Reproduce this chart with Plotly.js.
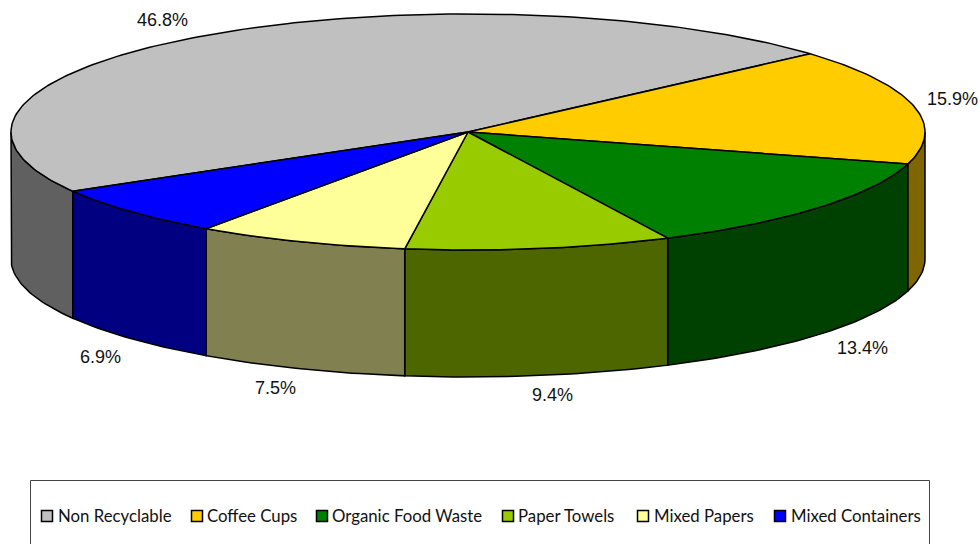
<!DOCTYPE html>
<html>
<head>
<meta charset="utf-8">
<script src="https://cdn.plot.ly/plotly-3.0.1.min.js"></script>
<style>html,body{margin:0;padding:0;background:#fff}#chart{width:980px;height:544px}</style>
</head>
<body>
<div id="chart"></div>
<script>
// Waste stream shares, in percent
const categories = ['Non Recyclable', 'Coffee Cups', 'Organic Food Waste', 'Paper Towels', 'Mixed Papers', 'Mixed Containers'];
const shares = [46.8, 15.9, 13.4, 9.4, 7.5, 6.9];
const topColors = ['#C0C0C0', '#FFCC00', '#008000', '#99CC00', '#FFFF99', '#0000FF'];
const wallColors = ['#606060', '#806600', '#004000', '#4D6600', '#808050', '#000080'];

// Where each percentage label and legend entry sits, in page pixels
const labelX = [162, 952.5, 862, 552, 275, 100];
const labelY = [20, 99, 348, 395, 388, 357];
const swatchX = [47, 197, 322, 508, 643, 780];
const legendTextX = [57.5, 207, 332, 518, 653.5, 790.5];
const legendY = 516;

// Disc projection: centre, radii and thickness of the tilted pie
const cx = 468, cy = 132, rx = 457, ry = 118, depth = 127;
const lastSliceEnd = 41.5;   // angle, in degrees, where the clockwise run of slices ends

const rad = d => d * Math.PI / 180;
const px = d => cx + rx * Math.cos(rad(d));
const py = (d, drop) => cy - ry * Math.sin(rad(d)) + drop;

function arc(from, to) {
  const n = Math.max(2, Math.ceil(Math.abs(from - to)));
  const out = [];
  for (let i = 0; i <= n; i++) out.push(from + (to - from) * i / n);
  return out;
}

const total = shares.reduce((a, b) => a + b, 0);
const spans = [];
let cursor = lastSliceEnd + 360 * shares[0] / total;
shares.forEach(v => {
  const next = cursor - 360 * v / total;
  spans.push([cursor, next]);
  cursor = next;
});

const traces = [];

// Front walls: only the part of each slice's rim facing the viewer
spans.forEach(([a0, a1], i) => {
  let from = null, to = null;
  if (a0 > -180 && a1 < 0) { from = Math.min(a0, 0); to = Math.max(a1, -180); }
  else if (a0 > 180 && a1 < 360) { from = Math.min(a0, 360); to = Math.max(a1, 180); }
  if (from === null) return;
  const angles = arc(from, to);
  const xs = angles.map(px).concat(angles.slice().reverse().map(px));
  const ys = angles.map(d => py(d, 0)).concat(angles.slice().reverse().map(d => py(d, depth)));
  xs.push(xs[0]); ys.push(ys[0]);
  traces.push({
    x: xs, y: ys, mode: 'lines', fill: 'toself', fillcolor: wallColors[i],
    line: {color: '#000', width: 1.5}, hoverinfo: 'skip', showlegend: false
  });
});

// Top face of each slice
spans.forEach(([a0, a1], i) => {
  const angles = arc(a0, a1);
  traces.push({
    x: [cx].concat(angles.map(px), [cx]),
    y: [cy].concat(angles.map(d => py(d, 0)), [cy]),
    mode: 'lines', fill: 'toself', fillcolor: topColors[i],
    line: {color: '#000', width: 1.5}, name: categories[i],
    text: shares[i].toFixed(1) + '%', hoverinfo: 'name+text', showlegend: false
  });
});

// Legend swatches
traces.push({
  x: swatchX, y: swatchX.map(() => legendY), mode: 'markers',
  marker: {symbol: 'square', size: 11, color: topColors, line: {color: '#000', width: 1.5}},
  hoverinfo: 'skip', showlegend: false
});

const annotations = [];
shares.forEach((v, i) => annotations.push({
  x: labelX[i], y: labelY[i], text: v.toFixed(1) + '%', showarrow: false,
  xanchor: 'center', yanchor: 'middle',
  font: {family: 'Liberation Sans, Arial, sans-serif', size: 18, color: '#111'}
}));
categories.forEach((c, i) => annotations.push({
  x: legendTextX[i], y: legendY - 0.5, text: c, showarrow: false,
  xanchor: 'left', yanchor: 'middle', borderpad: 0, borderwidth: 0,
  font: {family: 'Lato, sans-serif', size: 16.8, color: '#111'}
}));

const hiddenAxis = {visible: false, showgrid: false, zeroline: false, fixedrange: true};
const layout = {
  width: 980, height: 544,
  margin: {l: 0, r: 0, t: 0, b: 0, pad: 0},
  paper_bgcolor: '#fff', plot_bgcolor: '#fff',
  showlegend: false,
  xaxis: Object.assign({range: [0, 980]}, hiddenAxis),
  yaxis: Object.assign({range: [544, 0]}, hiddenAxis),
  shapes: [{
    type: 'rect', xref: 'x', yref: 'y', x0: 30.5, x1: 929.5, y0: 480.5, y1: 560,
    line: {color: '#444', width: 1}, fillcolor: 'rgba(0,0,0,0)', layer: 'below'
  }],
  annotations: annotations
};

Plotly.newPlot('chart', traces, layout, {displayModeBar: false, responsive: false});
</script>
</body>
</html>
